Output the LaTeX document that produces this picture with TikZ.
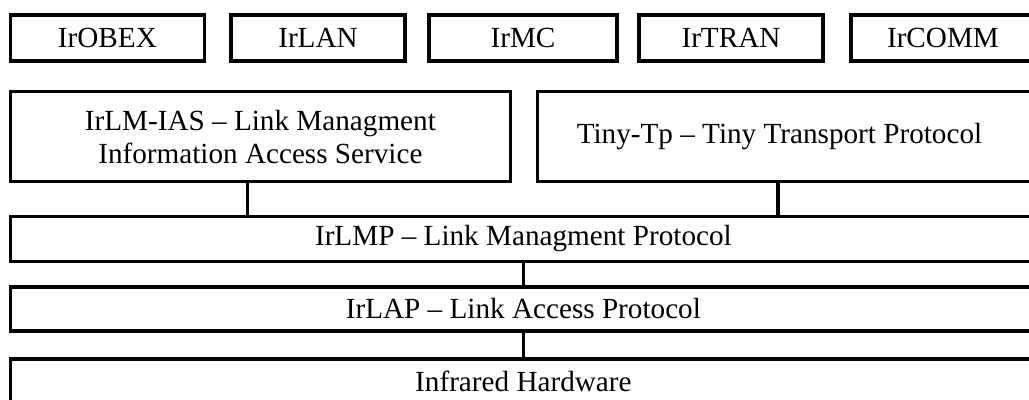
\documentclass[tikz,border=0pt]{standalone}
\usepackage{fontspec}
\setmainfont{Liberation Serif}
\usepackage{tikz}
\usetikzlibrary{calc}

\tikzset{
    layer/.style={draw, line width=0.9pt, rectangle, inner sep=0pt, align=center,
        font=\fontsize{8.3}{9.4}\selectfont},
    link/.style={line width=0.9pt}
}

\begin{document}
\begin{tikzpicture}[x=0.01cm, y=-0.01cm]
    \useasboundingbox (0,0) rectangle (1029,399);
    \clip (0,0) rectangle (1029,399);
    \node [layer, minimum width=1.933cm, minimum height=0.46cm] (obex) at (107.4,38) {IrOBEX};
    \node [layer, minimum width=1.74cm, minimum height=0.46cm] (lan) at (318,38) {IrLAN};
    \node [layer, minimum width=1.88cm, minimum height=0.46cm] (mc) at (523,38) {IrMC};
    \node [layer, minimum width=1.84cm, minimum height=0.46cm] (tran) at (731,38) {IrTRAN};
    \node [layer, minimum width=1.84cm, minimum height=0.46cm] (comm) at (943,38) {IrCOMM};
    \node [layer, minimum width=4.993cm, minimum height=0.9cm] (lmias) at (260.4,136.7) {IrLM-IAS – Link Managment\\Information Access Service};
    \node [layer, minimum width=4.98cm, minimum height=0.9cm] (tinytp) at (787,136.7) {Tiny-Tp – Tiny Transport Protocol\hspace{0.15cm}};
    \node [layer, minimum width=10.253cm, minimum height=0.45cm] (lmp) at (523.4,239) {IrLMP – Link Managment Protocol};
    \node [layer, minimum width=10.253cm, minimum height=0.44cm] (lap) at (523.4,309) {IrLAP – Link Access Protocol};
    \node [layer, minimum width=10.253cm, minimum height=0.45cm] (hw) at (523.4,381.5) {Infrared Hardware};
    \draw [link] ([xshift=-0.13cm]lmias.south) -- ([xshift=-0.13cm]lmias.south |- lmp.north);
    \draw [link] ([xshift=-0.09cm]tinytp.south) -- ([xshift=-0.09cm]tinytp.south |- lmp.north);
    \draw [link] (lmp.south) -- (lap.north);
    \draw [link] (lap.south) -- (hw.north);
\end{tikzpicture}
\end{document}
